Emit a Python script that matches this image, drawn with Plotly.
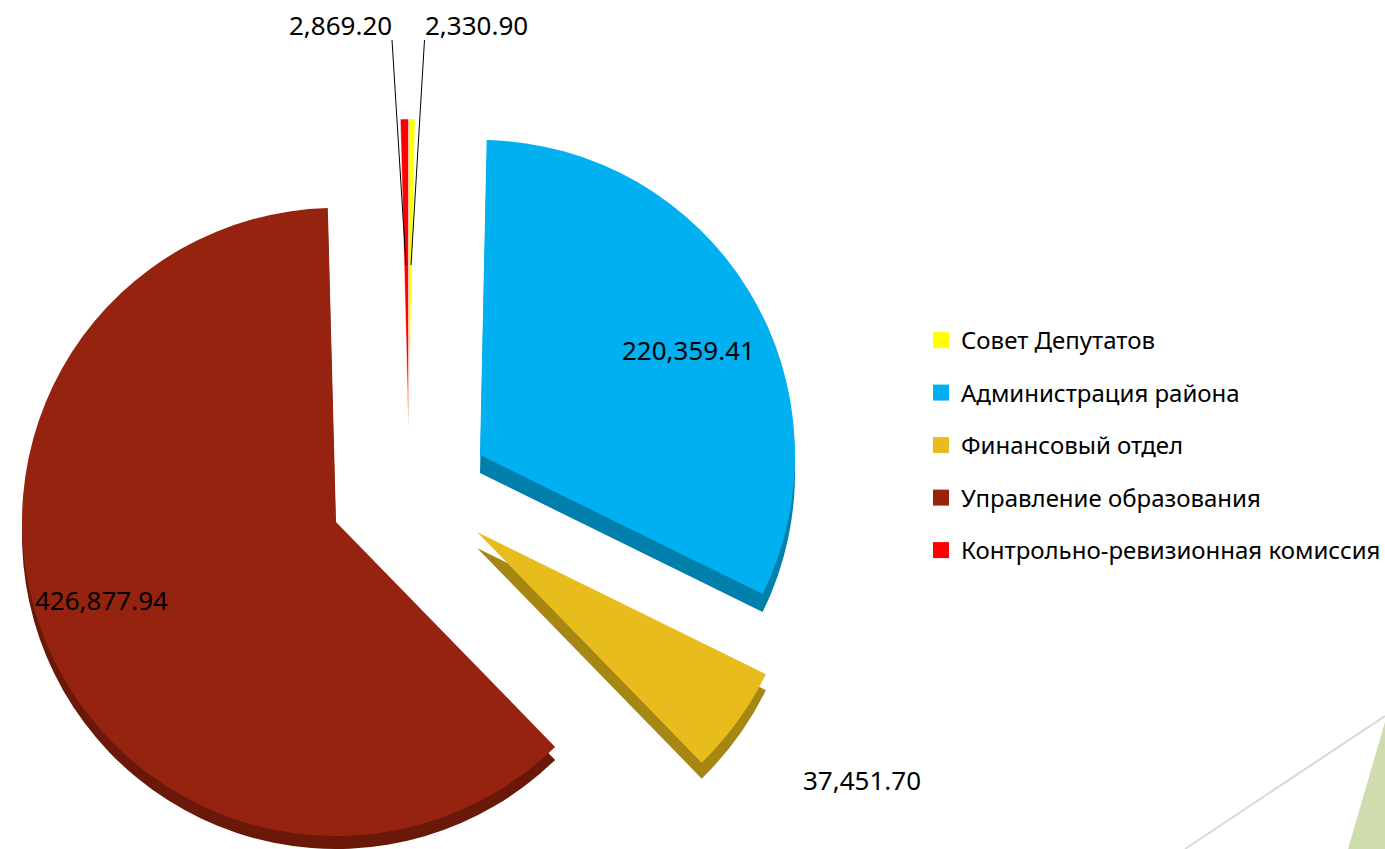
import plotly.graph_objects as go

LABELS = ["Совет Депутатов", "Администрация района", "Финансовый отдел",
          "Управление образования", "Контрольно-ревизионная комиссия"]
VALUES = [2330.90, 220359.41, 37451.70, 426877.94, 2869.20]
COLORS = ["#FFFF00", "#00B0F0", "#E9BC1E", "#95230F", "#FF0000"]
SIDES = ["#B3B300", "#007FAD", "#A68714", "#6A180A", "#B30000"]

W, H = 1440, 900  # canvas runs past the 1385x849 window so wedge circles and legend fit
LEGEND_FONT = dict(family="Noto Sans", size=24, color="#000000")
VALUE_FONT = dict(family="Noto Sans", size=26, color="#000000")
CLEAR = "rgba(0,0,0,0)"


def fx(px):
    return px / W


def fy(py):
    return 1 - py / H


def slice_pie(keep, palette, cx, cy, r, edge=0):
    """One exploded piece: the whole pie is drawn from VALUES, other slices clear."""
    n = len(VALUES)
    return go.Pie(
        labels=LABELS, values=VALUES, sort=False, direction="clockwise", rotation=0,
        marker=dict(colors=[palette[i] if i in keep else CLEAR for i in range(n)],
                    line=dict(width=edge, color=["#FFFFFF" if i in keep else CLEAR for i in range(n)])),
        textinfo="none", hoverinfo="label+value", showlegend=False,
        domain=dict(x=[fx(cx - r), fx(cx + r)], y=[fy(cy + r), fy(cy - r)]),
    )


# piece indices, apex x, apex y, radius, wall depth, edge width
PIECES = [([0, 4], 408.5, 430, 311, 0, 0.5),
          ([1], 480, 455, 315, 18, 0),
          ([2], 477, 532, 322, 16, 0),
          ([3], 336, 522, 314, 13, 0)]

fig = go.Figure()
for keep, cx, cy, r, depth, edge in PIECES:
    if depth:
        fig.add_trace(slice_pie(keep, SIDES, cx, cy + depth, r))
for keep, cx, cy, r, depth, edge in PIECES:
    fig.add_trace(slice_pie(keep, COLORS, cx, cy, r, edge))

for label, color in zip(LABELS, COLORS):
    fig.add_trace(go.Scatter(x=[None], y=[None], mode="markers", name=label, legendgroup=label,
                             marker=dict(symbol="square", size=16, color=color)))

LABEL_POS = {0: (476, 25), 1: (688, 350), 2: (862, 780), 3: (101, 600), 4: (340, 25)}
annotations = [
    dict(x=fx(p[0]), y=fy(p[1]), xref="paper", yref="paper", showarrow=False,
         text=f"{VALUES[i]:,.2f}", font=VALUE_FONT, xanchor="center", yanchor="middle")
    for i, p in LABEL_POS.items()
]


def seg(x0, y0, x1, y1, **kw):
    return dict(type="line", xref="paper", yref="paper",
                x0=fx(x0), y0=fy(y0), x1=fx(x1), y1=fy(y1), **kw)


shapes = [
    dict(type="path", xref="paper", yref="paper", layer="below", line=dict(width=0),
         fillcolor="#CFDCAE",
         path=f"M {fx(1385)} {fy(722)} L {fx(1348)} {fy(849)} L {fx(1385)} {fy(849)} Z"),
    seg(1385, 716, 1185, 849, layer="below", line=dict(color="#D9D9D9", width=2)),
    seg(392, 40, 406, 265, line=dict(color="#000000", width=1)),
    seg(424.5, 40, 411, 265, line=dict(color="#000000", width=1)),
]

fig.update_layout(
    width=W, height=H, margin=dict(l=0, r=0, t=0, b=0),
    paper_bgcolor="#FFFFFF", plot_bgcolor="rgba(0,0,0,0)",
    xaxis=dict(visible=False), yaxis=dict(visible=False),
    font=LEGEND_FONT, annotations=annotations, shapes=shapes,
    legend=dict(x=fx(921), y=fy(318), xanchor="left", yanchor="top",
                bgcolor=CLEAR, tracegroupgap=18.3,
                itemclick=False, itemdoubleclick=False),
)

fig.write_html("out.html", config=dict(displayModeBar=False),
               post_script="document.body.style.margin='0';document.body.style.overflow='hidden';"
                           "document.documentElement.style.overflow='hidden';")
